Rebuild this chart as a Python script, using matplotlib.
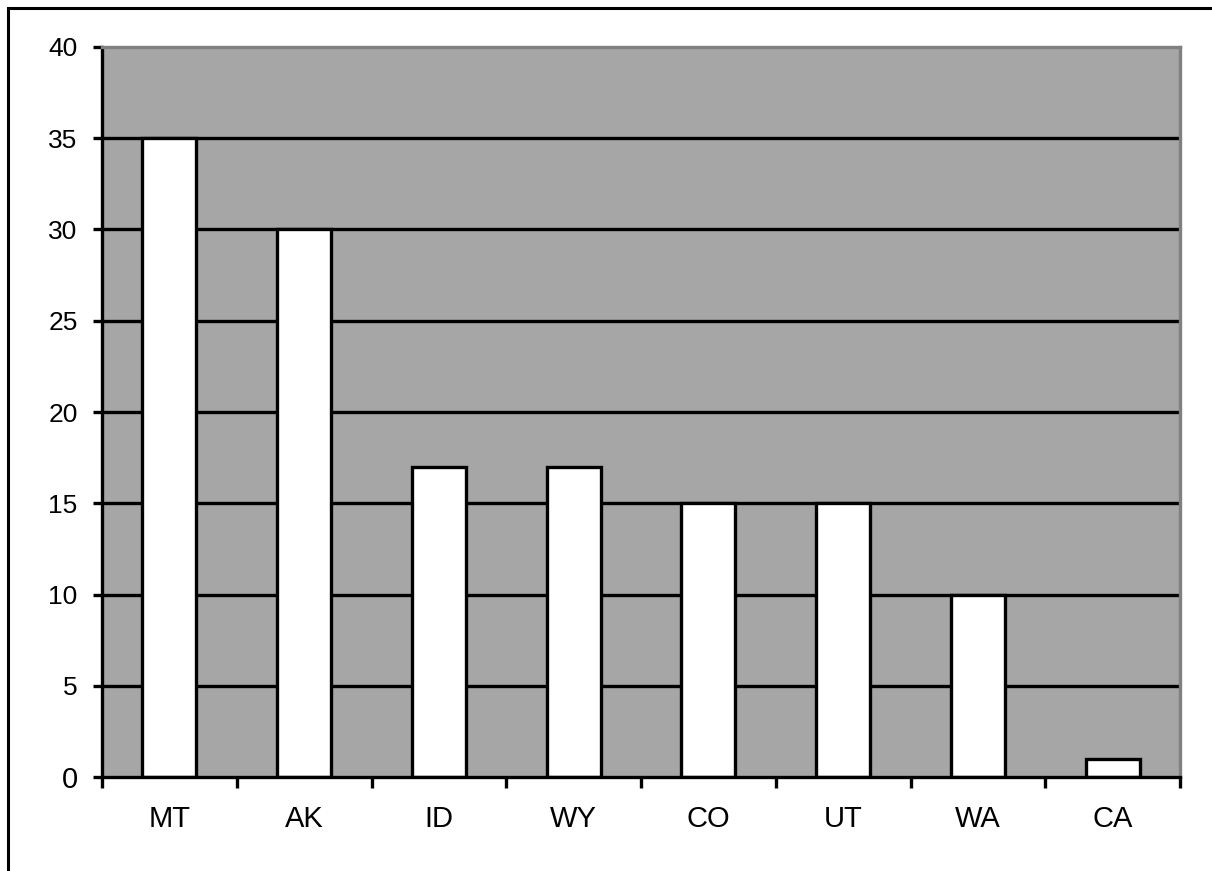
import matplotlib
matplotlib.use("Agg")
import matplotlib.pyplot as plt
from matplotlib.patches import Rectangle
import numpy as np

categories = ["MT", "AK", "ID", "WY", "CO", "UT", "WA", "CA"]
values = [35, 30, 17, 17, 15, 15, 10, 1]
yticks = [0, 5, 10, 15, 20, 25, 30, 35, 40]

plt.rcParams['font.family'] = ['Liberation Sans', 'DejaVu Sans']

W, H = 1212, 871
fig = plt.figure(figsize=(W/100, H/100), dpi=100)
fig.patch.set_facecolor('white')

# outer frame (cut off at bottom and right)
fig.patches.append(Rectangle((8/W, -0.1), 1.2, 1.1 - 8/H, transform=fig.transFigure,
                             fill=False, edgecolor='black', linewidth=2.2, zorder=0))

left, right, top, bottom = 102, 1180, 47, 777
ax = fig.add_axes([left/W, 1 - bottom/H, (right-left)/W, (bottom-top)/H])
ax.set_facecolor('#A6A6A6')

x = np.arange(len(categories))
ax.set_xlim(-0.5, len(categories) - 0.5)
ax.set_ylim(0, 40)

for yv in yticks[1:-1]:
    ax.axhline(yv, color='black', linewidth=2.4, zorder=1)

ax.bar(x, values, width=0.4, color='white', edgecolor='black', linewidth=2.4, zorder=2)

ax.spines['left'].set_color('black')
ax.spines['left'].set_linewidth(2.4)
ax.spines['bottom'].set_color('black')
ax.spines['bottom'].set_linewidth(2.4)
ax.spines['top'].set_color('#808080')
ax.spines['top'].set_linewidth(2.4)
ax.spines['right'].set_color('#808080')
ax.spines['right'].set_linewidth(2.4)
for s in ax.spines.values():
    s.set_zorder(3)

ax.set_yticks(yticks)
ax.set_yticklabels([str(v) for v in yticks], fontsize=19)
ax.get_yticklabels()[0].set_fontsize(21)
ax.tick_params(axis='y', direction='out', length=6.5, width=2.4, pad=11)

ax.set_xticks(np.arange(len(categories) + 1) - 0.5)
ax.set_xticklabels([])
ax.tick_params(axis='x', direction='out', length=8, width=2.4)
ax.set_xticks(x, minor=True)
ax.set_xticklabels(categories, minor=True, fontsize=21)
ax.tick_params(axis='x', which='minor', length=0, pad=20)

fig.savefig("out.png", dpi=100)
